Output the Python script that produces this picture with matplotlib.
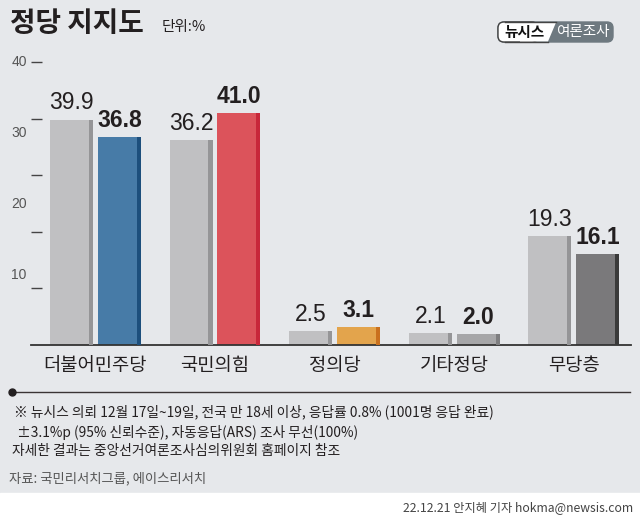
import matplotlib.pyplot as plt
from matplotlib.patches import Rectangle, FancyBboxPatch, Polygon

# data
categories = ['더불어민주당', '국민의힘', '정의당', '기타정당', '무당층']
prev_vals = [39.9, 36.2, 2.5, 2.1, 19.3]
curr_vals = [36.8, 41.0, 3.1, 2.0, 16.1]
prev_color = '#c0c0c2'
prev_edge = '#959597'
curr_colors = ['#477ba7', '#dc535b', '#e3a44c', '#a6a6a8', '#7a797b']
curr_edges = ['#1d4f7c', '#c8273a', '#c9701e', '#7e7e80', '#3a3a3a']
ytick_vals = [10, 20, 30, 40, 50]
ylabel_text = ['40', '30', '20', '10']
ylabel_pos = [50, 37.5, 25, 12.4]

footnotes = ['※ 뉴시스 의뢰 12월 17일~19일, 전국 만 18세 이상, 응답률 0.8% (1001명 응답 완료)',
             ' ±3.1%p (95% 신뢰수준), 자동응답(ARS) 조사 무선(100%)',
             '자세한 결과는 중앙선거여론조사심의위원회 홈페이지 참조']
source = '자료: 국민리서치그룹, 에이스리서치'
byline = '22.12.21 안지혜 기자 hokma@newsis.com'

KR = ['Noto Sans CJK KR', 'DejaVu Sans']
NUM = ['Liberation Sans', 'DejaVu Sans']
BG = '#e6e8eb'

fig = plt.figure(figsize=(6.4, 5.19), dpi=100, facecolor=BG)

# overlay in pixel coords for decorations
deco = fig.add_axes([0, 0, 1, 1], zorder=-1)
deco.set_xlim(0, 640)
deco.set_ylim(519, 0)
deco.axis('off')
deco.add_patch(Rectangle((0, 493), 640, 26, color='white'))

deco.text(10, 24, '정당 지지도', family=KR, fontsize=20, fontweight='bold',
          color='#231f20', va='center', ha='left')
deco.text(162, 27, '단위:%', family=KR, fontsize=10.5, color='#231f20',
          va='center', ha='left')

# logo
deco.add_patch(FancyBboxPatch((498, 22), 115, 20, boxstyle='round,pad=0,rounding_size=6',
                              fc='#6e7980', ec='#6e7980', lw=1))
deco.add_patch(FancyBboxPatch((498, 22), 40, 20, boxstyle='round,pad=0,rounding_size=6',
                              fc='white', ec='#444444', lw=1))
deco.add_patch(Polygon([[520, 22.5], [556, 22.5], [548, 41.5], [520, 41.5]],
                       closed=True, fc='white', ec='none'))
deco.plot([505, 556], [22, 22], color='#444444', lw=1)
deco.plot([505, 548], [42, 42], color='#444444', lw=1)
deco.text(524, 32, '뉴시스', family=KR, fontsize=10.5, fontweight='bold',
          color='#111111', ha='center', va='center')
deco.text(583, 32, '여론조사', family=KR, fontsize=10.5, color='white',
          ha='center', va='center')

# separator
deco.plot([12, 630], [392, 392], color='#3a3434', lw=1)
deco.plot([12], [392], 'o', color='#231f20', ms=5)

fy = [412, 432, 451]
fx = [14, 14, 12]
for t, x, y in zip(footnotes, fx, fy):
    deco.text(x, y, t, family=KR, fontsize=9.9, color='#231f20', ha='left', va='center')
deco.text(9, 478, source, family=KR, fontsize=9.6, color='#555555', ha='left', va='center')
deco.text(633, 508, byline, family=KR, fontsize=8.8, color='#444444', ha='right', va='center')

# main chart
ax = fig.add_axes([31 / 640, 1 - 345 / 519, 600 / 640, 295 / 519])
ax.set_facecolor('none')
ax.set_xlim(-0.539, 4.478)
ax.set_ylim(0, 52.2)

w = 0.36
off = 0.2
strip = 0.035
xs = list(range(len(categories)))
for i in xs:
    ax.bar(i - off, prev_vals[i], width=w, color=prev_color, zorder=2)
    ax.bar(i - off + w / 2 - strip / 2, prev_vals[i], width=strip, color=prev_edge, zorder=3)
    ax.bar(i + off, curr_vals[i], width=w, color=curr_colors[i], zorder=2)
    ax.bar(i + off + w / 2 - strip / 2, curr_vals[i], width=strip, color=curr_edges[i], zorder=3)
    ax.text(i - off, prev_vals[i] + 0.9, f'{prev_vals[i]:.1f}', family=NUM, fontsize=16.5,
            color='#231f20', ha='center', va='bottom')
    ax.text(i + off, curr_vals[i] + 0.9, f'{curr_vals[i]:.1f}', family=NUM, fontsize=16.5,
            fontweight='bold', color='#231f20', ha='center', va='bottom')

for s in ['top', 'right', 'left']:
    ax.spines[s].set_visible(False)
ax.spines['bottom'].set_color('#333333')
ax.spines['bottom'].set_linewidth(1.3)

ax.set_yticks(ytick_vals)
ax.set_yticklabels([])
ax.tick_params(axis='y', direction='in', length=8, width=1, color='#444444', left=True)
for t, v in zip(ylabel_text, ylabel_pos):
    ax.text(-0.007, v, t, transform=ax.get_yaxis_transform(), family=NUM, fontsize=10,
            color='#555555', ha='right', va='center')

ax.set_xticks(xs)
ax.set_xticklabels(categories, family=KR, fontsize=13.5, color='#231f20')
ax.tick_params(axis='x', length=0, pad=7)

fig.savefig('out.png', dpi=100, facecolor=BG)
